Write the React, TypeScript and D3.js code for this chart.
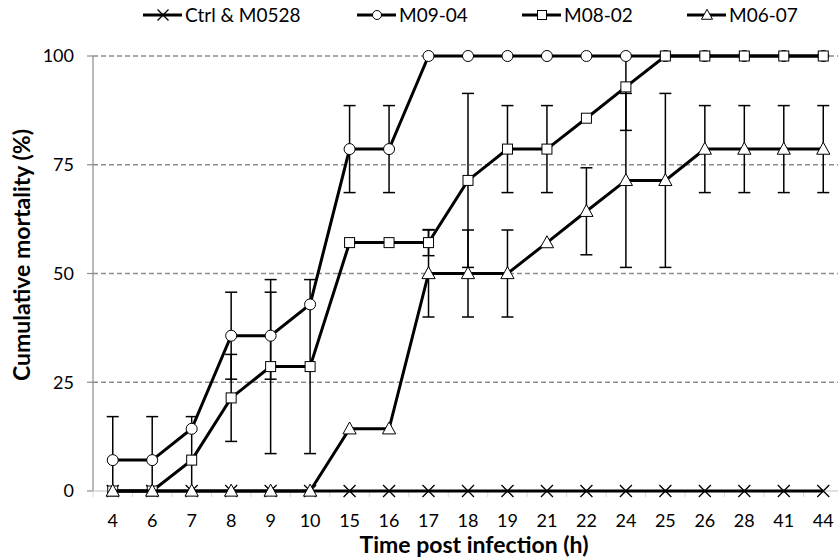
import React from "react";
import * as d3 from "d3";

const categories = ["4", "6", "7", "8", "9", "10", "15", "16", "17", "18", "19", "21", "22", "24", "25", "26", "28", "41", "44"];
const ctrlValues = [0, 0, 0, 0, 0, 0, 0, 0, 0, 0, 0, 0, 0, 0, 0, 0, 0, 0, 0];
const m0904Values = [7.1, 7.1, 14.3, 35.7, 35.7, 42.9, 78.6, 78.6, 100, 100, 100, 100, 100, 100, 100, 100, 100, 100, 100];
const m0904Err = [10, 10, 0, 10, 10, 0, 10, 10, 0, 0, 0, 0, 0, 0, 0, 0, 0, 0, 0];
const m0802Values = [0, 0, 7.1, 21.4, 28.6, 28.6, 57.1, 57.1, 57.1, 71.4, 78.6, 78.6, 85.7, 92.9, 100, 100, 100, 100, 100];
const m0802Err = [0, 0, 10, 10, 20, 20, 0, 0, 3, 20, 10, 10, 0, 10, 0, 0, 0, 0, 0];
const m0607Values = [0, 0, 0, 0, 0, 0, 14.3, 14.3, 50, 50, 50, 57.1, 64.3, 71.4, 71.4, 78.6, 78.6, 78.6, 78.6];
const m0607Err = [0, 0, 0, 0, 0, 0, 0, 0, 10, 10, 10, 0, 10, 20, 20, 10, 10, 10, 10];
const yTicks = [0, 25, 50, 75, 100];
const seriesNames = ["Ctrl & M0528", "M09-04", "M08-02", "M06-07"];

type Shape = "x" | "circle" | "square" | "triangle";

function Marker({ shape, cx, cy, s }: { shape: Shape; cx: number; cy: number; s: number }) {
  if (shape === "x") {
    return (
      <path d={`M${cx - s},${cy - s}L${cx + s},${cy + s}M${cx - s},${cy + s}L${cx + s},${cy - s}`} stroke="#000" strokeWidth={1.3} fill="none" />
    );
  }
  if (shape === "circle") {
    return <circle cx={cx} cy={cy} r={s} fill="#fff" stroke="#000" strokeWidth={1} />;
  }
  if (shape === "square") {
    return <rect x={cx - s} y={cy - s} width={2 * s} height={2 * s} fill="#fff" stroke="#000" strokeWidth={1} />;
  }
  const h = s * 1.9;
  return (
    <path d={`M${cx},${cy - h * 0.6}L${cx + s * 1.1},${cy + h * 0.45}L${cx - s * 1.1},${cy + h * 0.45}Z`} fill="#fff" stroke="#000" strokeWidth={1} />
  );
}

export default function App() {
  const W = 838, H = 560;
  const x = d3.scaleBand<string>().domain(categories).range([93, 843]).padding(0);
  const y = d3.scaleLinear().domain([0, 100]).range([491, 56]);
  const cx = (c: string) => (x(c) as number) + x.bandwidth() / 2;
  const line = d3.line<number>().x((_, i) => cx(categories[i])).y((d) => y(d));
  const font = "Lato, 'Open Sans', sans-serif";

  const series: { vals: number[]; err: number[] | null; shape: Shape; size: number }[] = [
    { vals: ctrlValues, err: null, shape: "x", size: 6 },
    { vals: m0904Values, err: m0904Err, shape: "circle", size: 5.5 },
    { vals: m0802Values, err: m0802Err, shape: "square", size: 5 },
    { vals: m0607Values, err: m0607Err, shape: "triangle", size: 6 },
  ];

  const legendItems = [
    { x0: 143, shape: "x" as Shape, size: 5.5 },
    { x0: 357, shape: "circle" as Shape, size: 4.5 },
    { x0: 522, shape: "square" as Shape, size: 4.5 },
    { x0: 687, shape: "triangle" as Shape, size: 5 },
  ];
  const ly = 15;

  return (
    <svg width={W} height={H} style={{ position: "absolute", left: 0, top: 0, background: "#fff" }} fontFamily={font}>
      <rect width={W} height={H} fill="#fff" />
      {/* gridlines */}
      {yTicks.filter((t) => t > 0).map((t) => (
        <line key={t} x1={93} x2={W} y1={y(t)} y2={y(t)} stroke="#8c8c8c" strokeWidth={1.5} strokeDasharray="5,3" />
      ))}
      {/* axes */}
      <line x1={93} x2={93} y1={y(100)} y2={y(0)} stroke="#8c8c8c" strokeWidth={1.2} />
      <line x1={93} x2={W} y1={y(0)} y2={y(0)} stroke="#bdbdbd" strokeWidth={1.2} />
      {yTicks.map((t) => (
        <g key={t}>
          <line x1={87} x2={93} y1={y(t)} y2={y(t)} stroke="#8c8c8c" strokeWidth={1.2} />
          <text x={74} y={y(t)} dy="0.35em" textAnchor="end" fontSize={18} fill="#000">{t}</text>
        </g>
      ))}
      {categories.map((c) => (
        <g key={c}>
          <line x1={(x(c) as number)} x2={(x(c) as number)} y1={y(0)} y2={y(0) + 6} stroke="#d9d9d9" strokeWidth={1} />
          <text x={cx(c)} y={527} textAnchor="middle" fontSize={18} fill="#000">{c}</text>
        </g>
      ))}
      {/* error bars (clipped to the 0-100 plot area, as in the source) */}
      {series.map((s, si) =>
        s.err ? (
          <g key={"e" + si}>
            {s.vals.map((v, i) => {
              const e = s.err![i];
              if (!e) return null;
              const px = cx(categories[i]);
              const hiV = v + e;
              const loV = v - e;
              const hi = y(Math.min(100, hiV));
              const lo = y(Math.max(0, loV));
              return (
                <g key={i}>
                  <line x1={px} x2={px} y1={hi} y2={lo} stroke="#000" strokeWidth={1.5} />
                  {hiV <= 100 && <line x1={px - 6} x2={px + 6} y1={hi} y2={hi} stroke="#000" strokeWidth={1.5} />}
                  {loV >= 0 && <line x1={px - 6} x2={px + 6} y1={lo} y2={lo} stroke="#000" strokeWidth={1.5} />}
                </g>
              );
            })}
          </g>
        ) : null
      )}
      {/* lines and markers */}
      {series.map((s, si) => (
        <g key={"s" + si}>
          <path d={line(s.vals) as string} fill="none" stroke="#000" strokeWidth={3} />
          {s.vals.map((v, i) => (
            <Marker key={i} shape={s.shape} cx={cx(categories[i])} cy={y(v)} s={s.size} />
          ))}
        </g>
      ))}
      {/* axis titles */}
      <text x={474} y={553} textAnchor="middle" fontSize={23} fontWeight="bold" fill="#000">Time post infection (h)</text>
      <text transform={`translate(30,255) rotate(-90)`} textAnchor="middle" fontSize={23} fontWeight="bold" fill="#000">Cumulative mortality (%)</text>
      {/* legend */}
      {legendItems.map((l, i) => (
        <g key={"l" + i}>
          <line x1={l.x0} x2={l.x0 + 39} y1={ly} y2={ly} stroke="#000" strokeWidth={3} />
          <Marker shape={l.shape} cx={l.x0 + 20} cy={ly} s={l.size} />
          <text x={l.x0 + 42} y={ly} dy="0.36em" fontSize={19} fill="#000">{seriesNames[i]}</text>
        </g>
      ))}
    </svg>
  );
}
